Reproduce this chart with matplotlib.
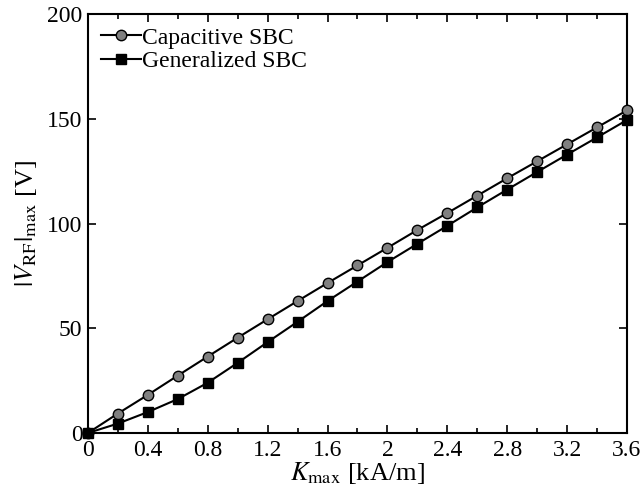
import matplotlib
matplotlib.use("Agg")
import matplotlib.pyplot as plt
from matplotlib.ticker import MultipleLocator, FuncFormatter

# data
k_max = [0.0, 0.2, 0.4, 0.6, 0.8, 1.0, 1.2, 1.4, 1.6, 1.8,
         2.0, 2.2, 2.4, 2.6, 2.8, 3.0, 3.2, 3.4, 3.6]
v_capacitive = [0.0, 9.3, 18.2, 27.4, 36.5, 45.5, 54.3, 63.0, 71.6, 80.0,
                88.4, 96.9, 105.0, 113.3, 121.6, 129.7, 137.8, 145.9, 154.0]
v_generalized = [0.0, 4.5, 10.0, 16.2, 24.0, 33.5, 43.4, 53.1, 63.0, 72.3,
                 81.6, 90.3, 98.9, 107.7, 116.2, 124.6, 132.9, 141.1, 149.4]

plt.rcParams["font.family"] = ["Liberation Serif", "DejaVu Serif"]
plt.rcParams["mathtext.fontset"] = "stix"

fig = plt.figure(figsize=(6.44, 4.97), dpi=100)
ax = fig.add_axes([0.1366, 0.1288, 0.837, 0.843])

ax.plot(k_max, v_capacitive, color="black", lw=1.5, marker="o",
        markersize=7.5, markerfacecolor="#808080", markeredgecolor="black",
        markeredgewidth=1.0, label="Capacitive SBC", clip_on=False, zorder=3)
ax.plot(k_max, v_generalized, color="black", lw=1.5, marker="s",
        markersize=6.5, markerfacecolor="black", markeredgecolor="black",
        label="Generalized SBC", clip_on=False, zorder=4)

ax.set_xlim(0, 3.6)
ax.set_ylim(0, 200)
ax.xaxis.set_major_locator(MultipleLocator(0.4))
ax.xaxis.set_minor_locator(MultipleLocator(0.2))
ax.yaxis.set_major_locator(MultipleLocator(50))
ax.xaxis.set_major_formatter(FuncFormatter(lambda v, p: "%g" % round(v, 1)))

ax.tick_params(which="both", direction="in", top=True, right=True,
               labelsize=17, width=1.2)
ax.tick_params(which="major", length=6)
ax.tick_params(which="minor", length=3.5)
ax.tick_params(axis="x", pad=5)
ax.tick_params(axis="y", pad=4)
for s in ax.spines.values():
    s.set_linewidth(1.5)

ax.set_xlabel(r"$K_{\rm max}$ [kA/m]", fontsize=19, labelpad=-1)
ax.set_ylabel(r"$|V_{\rm RF}|_{\rm max}$ [V]", fontsize=19, labelpad=6)

ax.legend(loc="upper left", frameon=False, fontsize=17, handlelength=1.7,
          handletextpad=0.05, borderaxespad=0.15, borderpad=0.4,
          labelspacing=0.1)

fig.savefig("out.png", dpi=100)
